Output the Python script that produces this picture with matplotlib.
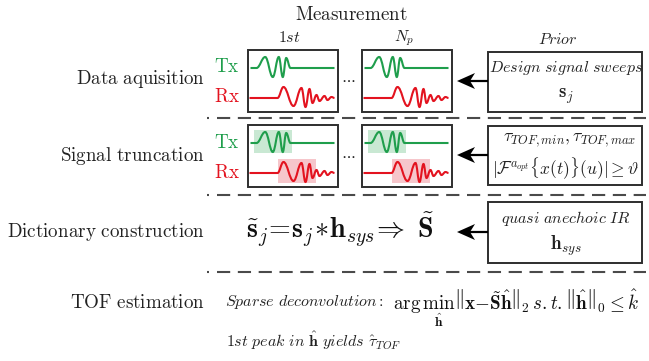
"""Processing pipeline sketch: measurement -> truncation -> dictionary -> TOF."""
import matplotlib

matplotlib.use("Agg")
import matplotlib.pyplot as plt
from matplotlib.patches import Rectangle, PathPatch, Polygon
from matplotlib.path import Path

plt.rcParams["mathtext.fontset"] = "cm"
plt.rcParams["lines.scale_dashes"] = False

GREEN = "#1f9e4c"
RED = "#e3131f"
GREEN_FILL = "#c9e8d3"
RED_FILL = "#f6c6cb"
BOX = "#2e2e2e"
DASH = "#4a4a4a"
TXT = "#222222"

# row labels on the left
STAGES = [r"$\mathrm{Data\ aquisition}$", r"$\mathrm{Signal\ truncation}$",
          r"$\mathrm{Dictionary\ construction}$", r"$\mathrm{TOF\ estimation}$"]
STAGE_Y = [79, 156, 232, 302]
SEPARATOR_Y = [118, 195, 272]

# waveform extrema, px from box left / px above baseline
TX_X = [3, 9, 17.7, 25.3, 31.3, 35.3, 38.7, 43, 87]
TX_Y = [0, 0, 11, -9, 11, -9, 10, 0, 0]
RX_X = [2, 30, 36, 46, 54, 58, 62, 65, 69, 72, 77, 80, 84, 87]
RX_Y = [0, 0, 11, -8, 10, -9, 9, -5, 3, -3, 2, -2, 1, 0]

# truncation windows (x0, x1 from box left)
TX_WIN = (6, 44)
RX_WIN = (30, 68)

PRIOR_TEXT = [
    (r"$\mathit{Design\ signal\ sweeps}$", r"$\mathbf{s}_j$"),
    (r"$\tau_{TOF,min},\tau_{TOF,max}$", r"$|\mathcal{F}^{a_{opt}}\{x(t)\}(u)|\geq\vartheta$"),
    (r"$\mathit{quasi\ anechoic\ IR}$", r"$\mathbf{h}_{sys}$"),
]

DICT_EQ = r"$\tilde{\mathbf{s}}_j\!=\!\mathbf{s}_j\!\ast\!\mathbf{h}_{sys}\!\Rightarrow\ \tilde{\mathbf{S}}$"
SPARSE_EQ = (r"$\arg\min_{\hat{\mathbf{h}}}\left\Vert\mathbf{x}-\tilde{\mathbf{S}}\hat{\mathbf{h}}\right\Vert_2"
             r"s.t.\left\Vert\hat{\mathbf{h}}\right\Vert_0\leq\hat{k}$")

IT_FS = 11.5


def wave(ax, x0, base, xs, ys, color):
    verts = [(x0 + xs[0], base - ys[0])]
    codes = [Path.MOVETO]
    for i in range(1, len(xs)):
        dx = xs[i] - xs[i - 1]
        verts += [(x0 + xs[i - 1] + 0.4 * dx, base - ys[i - 1]),
                  (x0 + xs[i] - 0.4 * dx, base - ys[i]),
                  (x0 + xs[i], base - ys[i])]
        codes += [Path.CURVE4] * 3
    ax.add_patch(PathPatch(Path(verts, codes), fc="none", ec=color, lw=1.5))


def meas_box(ax, x0, top, shaded):
    if shaded:
        ax.add_patch(Rectangle((x0 + TX_WIN[0], top + 5), TX_WIN[1] - TX_WIN[0], 23,
                               fc=GREEN_FILL, ec="none"))
        ax.add_patch(Rectangle((x0 + RX_WIN[0], top + 34), RX_WIN[1] - RX_WIN[0], 24,
                               fc=RED_FILL, ec="none"))
    ax.add_patch(Rectangle((x0, top), 90, 62, fc="none", ec=BOX, lw=1.4))
    wave(ax, x0, top + 18, TX_X, TX_Y, GREEN)
    wave(ax, x0, top + 48, RX_X, RX_Y, RED)


def arrow(ax, x_from, x_tip, y):
    # stealth-like head
    ax.plot([x_tip + 10, x_from], [y, y], color="black", lw=1.6, solid_capstyle="butt")
    ax.add_patch(Polygon([(x_tip, y), (x_tip + 18, y - 8), (x_tip + 13, y),
                          (x_tip + 18, y + 8)], closed=True, fc="black", ec="none"))


fig = plt.figure(figsize=(6.49, 3.61), dpi=100)
ax = fig.add_axes([0, 0, 1, 1])
ax.set_xlim(0, 649)
ax.set_ylim(361, 0)
ax.axis("off")
renderer = fig.canvas.get_renderer()


def fit(x0, x1, y, s, ha="left", va="center", **kw):
    # size the text so that it spans x0..x1 (axes units are pixels)
    x = {"left": x0, "right": x1, "center": (x0 + x1) / 2}[ha]
    t = ax.text(x, y, s, ha=ha, va=va, fontsize=10, **kw)
    w = t.get_window_extent(renderer).width
    t.set_fontsize(10 * (x1 - x0) / w)
    return t


rm_fs = fit(75, 205, STAGE_Y[0], STAGES[0], ha="right", color=TXT).get_fontsize()

for label, y in zip(STAGES[1:], STAGE_Y[1:]):
    ax.text(205, y, label, ha="right", va="center", fontsize=rm_fs, color=TXT)

for y in SEPARATOR_Y:
    ax.plot([207, 209], [y, y], color=DASH, lw=1.5, solid_capstyle="butt")
    ax.plot([217, 646], [y, y], color=DASH, lw=1.5, linestyle=(0, (9.5, 5.5)))

# headers
ax.text(351, 14, r"$\mathrm{Measurement}$", ha="center", va="center", fontsize=rm_fs, color=TXT)
ax.text(289, 38, r"$\mathit{1st}$", ha="center", va="center", fontsize=IT_FS, color=TXT)
ax.text(404, 38, r"$N_p$", ha="center", va="center", fontsize=IT_FS, color=TXT)
ax.text(558, 40, r"$\mathit{Prior}$", ha="center", va="center", fontsize=IT_FS, color=TXT)

# measurement boxes
for top, shaded in [(50, False), (125, True)]:
    for x0 in [247.5, 361.5]:
        meas_box(ax, x0, top, shaded)
    ax.text(227, top + 17, r"$\mathrm{Tx}$", ha="center", va="center", fontsize=rm_fs, color=GREEN)
    ax.text(227, top + 47, r"$\mathrm{Rx}$", ha="center", va="center", fontsize=rm_fs, color=RED)
    ax.text(348, top + 29, r"$\cdots$", ha="center", va="center", fontsize=11, color=TXT)

# prior boxes
prior_boxes = [(488, 52, 60), (488, 126, 59), (488, 202, 61)]
for i, ((x0, top, h), (t1, t2)) in enumerate(zip(prior_boxes, PRIOR_TEXT)):
    ax.add_patch(Rectangle((x0, top), 642 - x0, h, fc="none", ec=BOX, lw=1.4))
    if i == 1:
        fit(503, 637, top + 14, t1, ha="center", color=TXT)
        fit(492, 640, top + 43, t2, ha="center", color=TXT)
    else:
        ax.text(566, top + 16, t1, ha="center", va="center", fontsize=IT_FS, color=TXT)
        ax.text(566, top + 44, t2, ha="center", va="center", fontsize=rm_fs, color=TXT)

for y in [81, 155, 232]:
    arrow(ax, 488, 457, y)

fit(246, 437, 238, DICT_EQ, va="baseline", color="#111111")

ax.text(225, 306, r"$\mathit{Sparse\ deconvolution:}$", ha="left", va="baseline",
        fontsize=IT_FS, color=TXT)
fit(393, 636, 310, SPARSE_EQ, va="baseline", color="#111111")
ax.text(226, 347, r"$\mathit{1st\ peak\ in\ }\hat{\mathbf{h}}\mathit{\ yields\ }\hat{\tau}_{TOF}$",
        ha="left", va="baseline", fontsize=IT_FS, color=TXT)

fig.savefig("out.png", dpi=100)
